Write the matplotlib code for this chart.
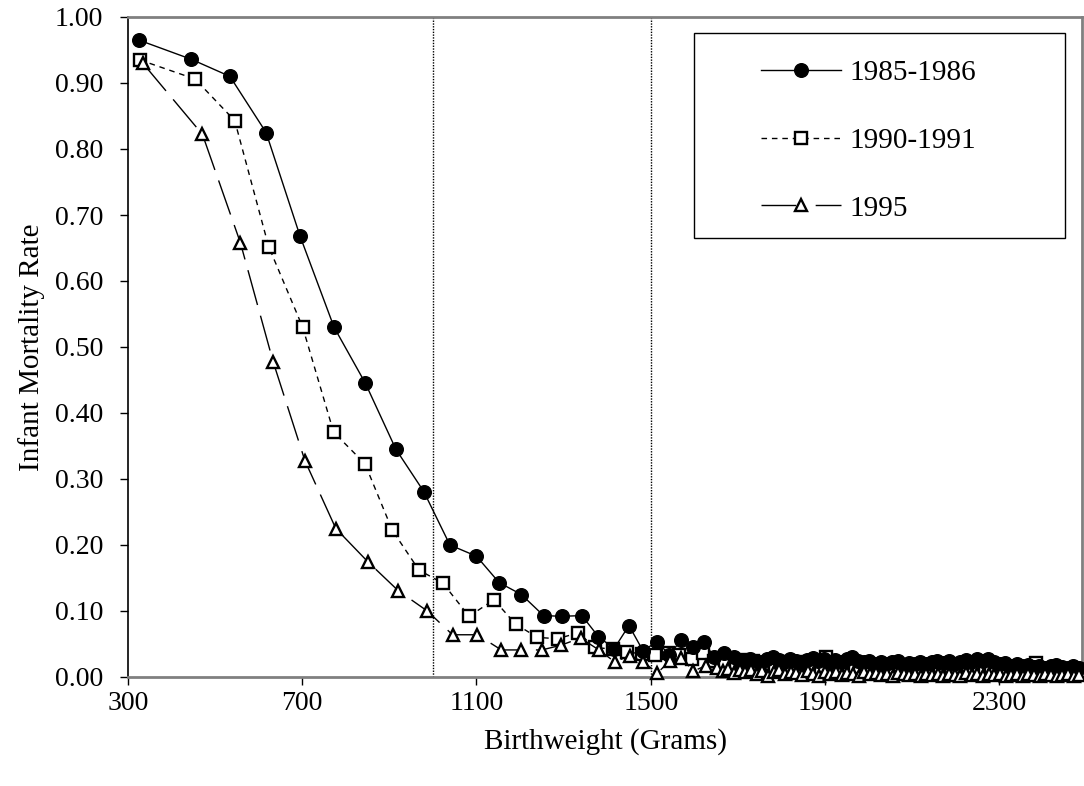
import matplotlib
matplotlib.use("Agg")
import matplotlib.pyplot as plt
from matplotlib.patches import Rectangle
from matplotlib.lines import Line2D

plt.rcParams['font.family'] = ['Liberation Serif', 'DejaVu Serif']

# 1985-1986 (filled circles)
x_8586 = [325, 445, 534, 617, 695, 773, 845, 915, 979, 1039, 1100, 1152, 1203, 1254,
          1296, 1342, 1380, 1416, 1450, 1482, 1514, 1543, 1570, 1597, 1622, 1646, 1668,
          1690, 1703, 1716, 1729, 1742, 1755, 1768, 1781, 1794, 1807, 1820, 1833, 1846,
          1859, 1872, 1885, 1898, 1911, 1924, 1937, 1950, 1963, 1976, 1989, 2002, 2015,
          2028, 2041, 2054, 2067, 2080, 2093, 2106, 2119, 2132, 2145, 2158, 2171, 2184,
          2197, 2210, 2223, 2236, 2249, 2262, 2275, 2288, 2301, 2314, 2327, 2340, 2353,
          2366, 2379, 2392, 2405, 2418, 2431, 2444, 2457, 2470, 2483]
y_8586 = [0.965, 0.936, 0.910, 0.825, 0.668, 0.530, 0.445, 0.345, 0.281, 0.200, 0.183,
          0.143, 0.125, 0.093, 0.092, 0.093, 0.061, 0.043, 0.078, 0.040, 0.053, 0.034,
          0.056, 0.046, 0.053, 0.030, 0.036,
          0.030, 0.026, 0.024, 0.028, 0.025, 0.022, 0.027, 0.031, 0.026, 0.023,
          0.028, 0.025, 0.021, 0.026, 0.029, 0.024, 0.027, 0.022, 0.026, 0.023,
          0.028, 0.031, 0.024, 0.022, 0.025, 0.020, 0.023, 0.019, 0.022, 0.024,
          0.018, 0.021, 0.019, 0.023, 0.020, 0.022, 0.024, 0.021, 0.025, 0.019,
          0.023, 0.026, 0.022, 0.027, 0.024, 0.028, 0.022, 0.019, 0.021, 0.017,
          0.019, 0.016, 0.018, 0.015, 0.017, 0.014, 0.016, 0.018, 0.015, 0.013,
          0.016, 0.014]

# 1990-1991 (open squares)
x_9091 = [327, 454, 545, 623, 701, 772, 844, 907, 968, 1023, 1083, 1140, 1190, 1240,
          1286, 1334, 1371, 1413, 1445, 1480, 1510, 1539, 1566, 1594, 1619, 1645, 1670,
          1695, 1708, 1721, 1734, 1747, 1760, 1773, 1786, 1799, 1812, 1825, 1838, 1851,
          1864, 1877, 1890, 1903, 1916, 1929, 1942, 1955, 1968, 1981, 1994, 2007, 2020,
          2033, 2046, 2059, 2072, 2085, 2098, 2111, 2124, 2137, 2150, 2163, 2176, 2189,
          2202, 2215, 2228, 2241, 2254, 2267, 2280, 2293, 2306, 2319, 2332, 2345, 2358,
          2371, 2384, 2397, 2410, 2423, 2436, 2449, 2462, 2475, 2488]
y_9091 = [0.935, 0.906, 0.843, 0.652, 0.530, 0.371, 0.323, 0.222, 0.162, 0.142, 0.092,
          0.117, 0.080, 0.060, 0.058, 0.067, 0.045, 0.042, 0.038, 0.035, 0.033, 0.036,
          0.033, 0.028, 0.036, 0.024, 0.021,
          0.020, 0.022, 0.026, 0.024, 0.018, 0.015, 0.020, 0.017, 0.022, 0.019,
          0.016, 0.019, 0.023, 0.018, 0.015, 0.013, 0.030, 0.012, 0.017, 0.014,
          0.011, 0.013, 0.015, 0.010, 0.012, 0.014, 0.011, 0.009, 0.012, 0.010,
          0.013, 0.009, 0.011, 0.008, 0.010, 0.012, 0.009, 0.011, 0.008, 0.010,
          0.012, 0.009, 0.011, 0.008, 0.010, 0.009, 0.012, 0.010, 0.008, 0.011,
          0.009, 0.012, 0.010, 0.021, 0.007, 0.010, 0.008, 0.011, 0.009, 0.007,
          0.010, 0.008]

# 1995 (open triangles)
x_95 = [334, 471, 558, 633, 706, 777, 850, 920, 987, 1045, 1102, 1157, 1203, 1250, 1293,
        1339, 1381, 1417, 1452, 1483, 1515, 1545, 1570, 1598, 1626,
        1652, 1665, 1678, 1691, 1704, 1717, 1730, 1743, 1756, 1769, 1782, 1795, 1808,
        1821, 1834, 1847, 1860, 1873, 1886, 1899, 1912, 1925, 1938, 1951, 1964, 1977,
        1990, 2003, 2016, 2029, 2042, 2055, 2068, 2081, 2094, 2107, 2120, 2133, 2146,
        2159, 2172, 2185, 2198, 2211, 2224, 2237, 2250, 2263, 2276, 2289, 2302, 2315,
        2328, 2341, 2354, 2367, 2380, 2393, 2406, 2419, 2432, 2445, 2458, 2471, 2484]
y_95 = [0.930, 0.822, 0.658, 0.478, 0.328, 0.225, 0.175, 0.131, 0.100, 0.064, 0.064,
        0.041, 0.041, 0.041, 0.048, 0.059, 0.041, 0.023, 0.032, 0.023, 0.006, 0.025,
        0.029, 0.009, 0.017,
        0.014, 0.009, 0.012, 0.006, 0.010, 0.008, 0.011, 0.005, 0.009, 0.002,
        0.007, 0.010, 0.004, 0.008, 0.006, 0.003, 0.009, 0.005, 0.002, 0.007,
        0.004, 0.008, 0.003, 0.006, 0.005, 0.002, 0.007, 0.004, 0.006, 0.003,
        0.005, 0.002, 0.006, 0.004, 0.003, 0.005, 0.002, 0.004, 0.003, 0.005,
        0.002, 0.004, 0.003, 0.002, 0.006, 0.003, 0.004, 0.002, 0.005, 0.003,
        0.004, 0.002, 0.003, 0.005, 0.002, 0.004, 0.003, 0.002, 0.004, 0.003,
        0.002, 0.003, 0.004, 0.002, 0.003]

labels = ['1985-1986', '1990-1991', '1995']
cutoffs = [1000, 1500]
x_ticks = [300, 700, 1100, 1500, 1900, 2300]
y_ticks = [0.0, 0.1, 0.2, 0.3, 0.4, 0.5, 0.6, 0.7, 0.8, 0.9, 1.0]

fig = plt.figure(figsize=(10.84, 7.86), dpi=100)
ax = fig.add_axes([128 / 1084, 1 - 677 / 786, (1082 - 128) / 1084, 660 / 786])

# Garis batas 1000 g dan 1500 g
for c in cutoffs:
    ax.axvline(c, color='black', linestyle=(0, (1, 1)), linewidth=1.0, zorder=1)

style_c = dict(color='black', linewidth=1.0, marker='o', markersize=9.8,
               markerfacecolor='black', markeredgecolor='black', clip_on=False)
style_s = dict(color='black', linewidth=1.0, linestyle=(0, (4, 3.5)), marker='s',
               markersize=8.5, markerfacecolor='white', markeredgecolor='black',
               markeredgewidth=1.7, clip_on=False)
style_t = dict(color='black', linewidth=1.0, linestyle=(0, (26, 8)), marker='^',
               markersize=9, markerfacecolor='white', markeredgecolor='black',
               markeredgewidth=1.7, clip_on=False)

# Urutan gambar: kotak, lalu lingkaran, segitiga paling atas
ax.plot(x_9091, y_9091, zorder=3, **style_s)
ax.plot(x_8586, y_8586, zorder=4, **style_c)
ax.plot(x_95, y_95, zorder=5, **style_t)

ax.set_xlim(300, 2490)
ax.set_ylim(0, 1.0)
ax.set_xticks(x_ticks)
ax.set_yticks(y_ticks)
ax.set_yticklabels([f'{v:.2f}' for v in y_ticks])
ax.tick_params(axis='both', direction='out', length=6, width=1, labelsize=20, colors='black')
ax.tick_params(axis='y', pad=12)
ax.tick_params(axis='x', pad=4)

for side in ['top', 'right', 'bottom']:
    ax.spines[side].set_color('#808080')
    ax.spines[side].set_linewidth(2)
ax.spines['left'].set_color('black')
ax.spines['left'].set_linewidth(1.2)

ax.set_xlabel('Birthweight (Grams)', fontsize=21, labelpad=9)
ax.set_ylabel('Infant Mortality Rate', fontsize=21, labelpad=7)

# Kotak legenda digambar manual supaya ukurannya pas
to_ax = ax.transAxes.inverted()
(bx0, by0) = to_ax.transform(fig.transFigure.transform((694 / 1084, 1 - 238 / 786)))
(bx1, by1) = to_ax.transform(fig.transFigure.transform((1065 / 1084, 1 - 33 / 786)))
ax.add_patch(Rectangle((bx0, by0), bx1 - bx0, by1 - by0, transform=ax.transAxes,
                       facecolor='white', edgecolor='black', linewidth=1.0, zorder=6))

# handle legenda 1995 pakai celah lebih lebar supaya tampak "—Δ —"
style_t_leg = dict(style_t, linestyle=(0, (25, 14)))
handles = [Line2D([], [], **style_c), Line2D([], [], **style_s), Line2D([], [], **style_t_leg)]
leg = ax.legend(handles, labels, loc='upper left', frameon=False, fontsize=21,
                handlelength=2.75, handletextpad=0.3, labelspacing=1.42,
                bbox_to_anchor=(746 / 1084, 1 - 45 / 786), bbox_transform=fig.transFigure,
                borderpad=0)
leg.set_zorder(7)

fig.savefig('out.png', dpi=100)
